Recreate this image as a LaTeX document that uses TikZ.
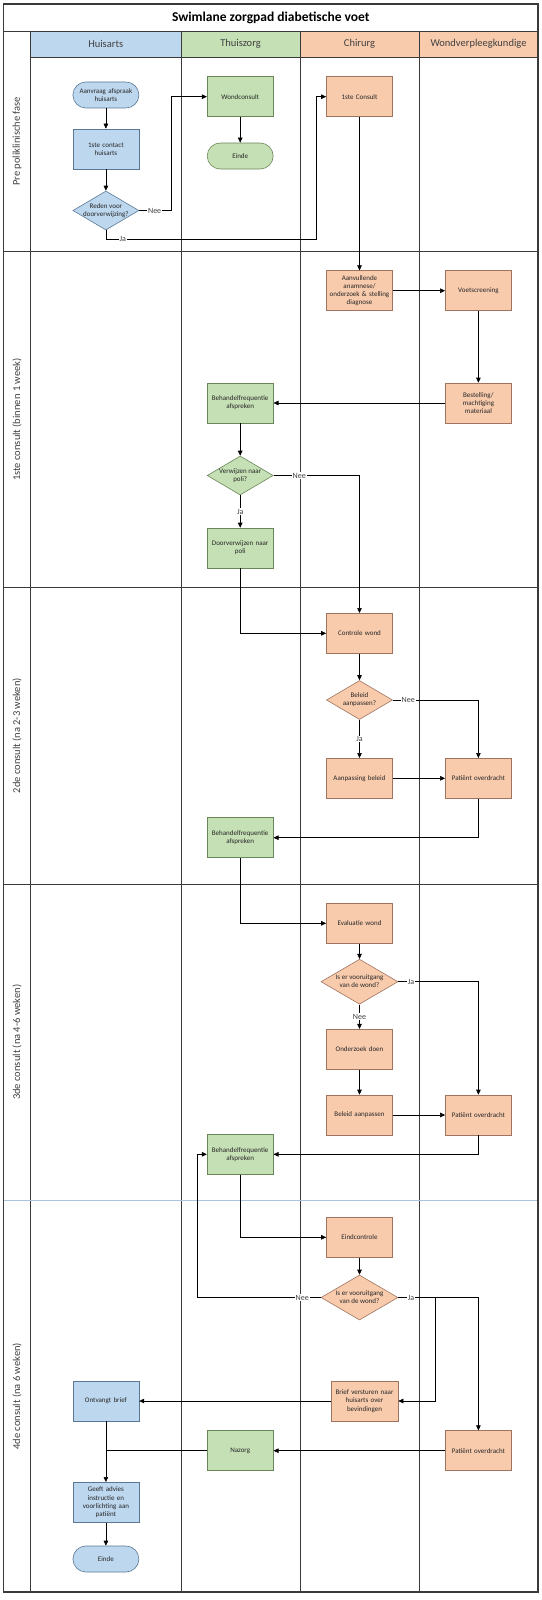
\documentclass[tikz,border=0pt]{standalone}
\usepackage{fontspec}
\setmainfont{Carlito}
\usetikzlibrary{shapes.geometric, arrows.meta, positioning}

\definecolor{hablue}{HTML}{BDD7EE}
\definecolor{haline}{HTML}{5A7896}
\definecolor{tzgreen}{HTML}{C5E0B4}
\definecolor{tzline}{HTML}{6A8558}
\definecolor{chorange}{HTML}{F8CBAD}
\definecolor{chline}{HTML}{9E7460}
\definecolor{laneline}{HTML}{3A3A3A}
\definecolor{textgray}{HTML}{404040}
\definecolor{phaseblue}{HTML}{A9C4DC}

%% diamond text: no width, so the diamond keeps its own size
\newcommand{\dtext}[1]{\makebox[0pt]{\begin{tabular}{@{}c@{}}#1\end{tabular}}}

\begin{document}
\begin{tikzpicture}[
    x=1pt, y=-1pt,
    font=\fontsize{7}{8.2}\selectfont,
    %% ── Box styles ──────────────────────────────────────────────────────
    stepbase/.style={
        rectangle, draw, line width=0.6pt,
        minimum width=66pt, minimum height=40pt,
        text width=64pt, inner sep=0pt,
        align=center, text=black!85,
    },
    hastep/.style={stepbase, draw=haline, fill=hablue},
    tzstep/.style={stepbase, draw=tzline, fill=tzgreen},
    chstep/.style={stepbase, draw=chline, fill=chorange},
    haterm/.style={hastep, minimum height=26pt, rounded corners=13pt},
    tzterm/.style={tzstep, minimum height=26pt, rounded corners=13pt},
    decbase/.style={
        diamond, draw, line width=0.6pt,
        minimum width=66pt, minimum height=39pt,
        inner sep=0pt, text=black!85,
    },
    hadec/.style={decbase, draw=haline, fill=hablue},
    tzdec/.style={decbase, draw=tzline, fill=tzgreen},
    chdec/.style={decbase, draw=chline, fill=chorange},
    widedec/.style={chdec, minimum width=77pt, minimum height=45pt},
    %% ── Lane styles ─────────────────────────────────────────────────────
    lane/.style={draw=laneline, line width=0.9pt},
    lanehead/.style={font=\fontsize{10.5}{12}\selectfont, text=textgray},
    phaselabel/.style={font=\fontsize{10.5}{12}\selectfont, text=textgray, rotate=90},
    %% ── Arrow styles ────────────────────────────────────────────────────
    flow/.style={
        -{Triangle[length=5pt, width=4.5pt]},
        line width=0.6pt,
    },
    link/.style={line width=0.6pt},
    lbl/.style={fill=white, inner sep=0.8pt, font=\fontsize{8}{9}\selectfont, text=textgray},
]

\useasboundingbox (0,0) rectangle (541,1600);

%%─────────────────────────────────────────────────────────────────────────
%% Swimlanes
%%─────────────────────────────────────────────────────────────────────────
\fill[hablue]   (30.4,31) rectangle (181,57);
\fill[tzgreen]  (181,31)  rectangle (300,57);
\fill[chorange] (300,31)  rectangle (419,57);
\fill[chorange] (419,31)  rectangle (538,57);

\draw[lane] (3.5,31) -- (538,31);
\draw[lane] (30.4,57) -- (538,57);
\foreach \px in {30.4, 181, 300, 419}
    \draw[lane] (\px,31) -- (\px,1592);
\foreach \py in {251.7, 587.5, 884}
    \draw[lane] (3.5,\py) -- (538,\py);
\draw[draw=phaseblue, line width=0.8pt] (3.5,1200.7) -- (538,1200.7);
\draw[draw=laneline, line width=1.3pt] (3.5,4) rectangle (538,1592);

\node[font=\bfseries\fontsize{13.5}{15}\selectfont] (title) at (270.75,17.5)
    {Swimlane zorgpad diabetische voet};

\node[lanehead] (hHuisarts) at (105.7,44) {Huisarts};
\node[lanehead] (hThuiszorg) at (240.5,44) {Thuiszorg};
\node[lanehead] (hChirurg) at (359.5,44) {Chirurg};
\node[lanehead] (hWond) at (478.5,44) {Wondverpleegkundige};

\node[phaselabel] (pPre) at (17,141.3) {Pre poliklinische fase};
\node[phaselabel] (pEen) at (17,419.6) {1ste consult (binnen 1 week)};
\node[phaselabel] (pTwee) at (17,735.7) {2de consult (na 2-3 weken)};
\node[phaselabel] (pDrie) at (17,1042.3) {3de consult (na 4-6 weken)};
\node[phaselabel] (pVier) at (17,1396.3) {4de consult (na 6 weken)};

%%─────────────────────────────────────────────────────────────────────────
%% Pre poliklinische fase
%%─────────────────────────────────────────────────────────────────────────
\node[haterm] (aanvraag) at (105.9,95) {Aanvraag afspraak\\huisarts};
\node[hastep] (contact) at (105.9,149) {1ste contact\\huisarts};
\node[hadec] (reden) at (105.9,210.5) {\dtext{Reden voor\\doorverwijzing?}};
\node[tzstep] (wondconsult) at (240.2,96.7) {Wondconsult};
\node[tzterm] (einde1) at (240.2,156) {Einde};
\node[chstep] (consult1) at (359.5,96.7) {1ste Consult};

%%─────────────────────────────────────────────────────────────────────────
%% 1ste consult
%%─────────────────────────────────────────────────────────────────────────
\node[chstep] (aanvullend) at (359.5,290.7) {Aanvullende\\anamnese/\\onderzoek \& stelling\\diagnose};
\node[chstep] (voetscreening) at (478.4,290.7) {Voetscreening};
\node[chstep] (bestelling) at (478.4,403) {Bestelling/\\machtiging\\materiaal};
\node[tzstep] (behandel1) at (240.2,403) {Behandelfrequentie\\afspreken};
\node[tzdec] (verwijzen) at (240.2,475.5) {\dtext{Verwijzen naar\\poli?}};
\node[tzstep] (doorverwijzen) at (240.2,548) {Doorverwijzen naar\\poli};

%%─────────────────────────────────────────────────────────────────────────
%% 2de consult
%%─────────────────────────────────────────────────────────────────────────
\node[chstep] (controle) at (359.5,633.3) {Controle wond};
\node[chdec] (beleid) at (359.5,700) {\dtext{Beleid\\aanpassen?}};
\node[chstep] (aanpassing) at (359.5,778.3) {Aanpassing beleid};
\node[chstep] (overdracht1) at (478.4,778.3) {Patiënt overdracht};
\node[tzstep] (behandel2) at (240.2,837.7) {Behandelfrequentie\\afspreken};

%%─────────────────────────────────────────────────────────────────────────
%% 3de consult
%%─────────────────────────────────────────────────────────────────────────
\node[chstep] (evaluatie) at (359.5,923.3) {Evaluatie wond};
\node[widedec] (vooruit1) at (359.5,981.7) {\dtext{Is er vooruitgang\\van de wond?}};
\node[chstep] (onderzoek) at (359.5,1049.2) {Onderzoek doen};
\node[chstep] (beleidaanp) at (359.5,1115) {Beleid aanpassen};
\node[chstep] (overdracht2) at (478.4,1115) {Patiënt overdracht};
\node[tzstep] (behandel3) at (240.2,1154.3) {Behandelfrequentie\\afspreken};

%%─────────────────────────────────────────────────────────────────────────
%% 4de consult
%%─────────────────────────────────────────────────────────────────────────
\node[chstep] (eindcontrole) at (359.5,1237.3) {Eindcontrole};
\node[widedec] (vooruit2) at (359.5,1297.5) {\dtext{Is er vooruitgang\\van de wond?}};
\node[chstep, minimum width=67pt] (brief) at (364.5,1401) {Brief versturen naar\\huisarts over\\bevindingen};
\node[hastep] (ontvangt) at (105.9,1401) {Ontvangt brief};
\node[chstep] (overdracht3) at (478.4,1450.7) {Patiënt overdracht};
\node[tzstep] (nazorg) at (240.2,1450.7) {Nazorg};
\node[hastep] (geeft) at (105.9,1502.3) {Geeft advies\\instructie en\\voorlichting aan\\patiënt};
\node[haterm] (einde2) at (105.9,1559) {Einde};

%%─────────────────────────────────────────────────────────────────────────
%% Connectors
%%─────────────────────────────────────────────────────────────────────────
\coordinate (jaturn) at (316.6,239);
\coordinate (neeturn) at (197.2,1297.5);
\coordinate (briefturn) at (435,1297.5);

%% pre poliklinisch
\draw[flow] (aanvraag) -- (contact);
\draw[flow] (contact) -- (reden);
\draw[flow] (reden.east) -- node[lbl, pos=0.48] {Nee} ++(32.2,0) |- (wondconsult.west);
\draw[flow] (wondconsult) -- (einde1);
\draw[flow] (reden.south) |- node[lbl, pos=0.54] {Ja} (jaturn) |- (consult1.west);
\draw[flow] (consult1) -- (aanvullend);

%% 1ste consult
\draw[flow] (aanvullend) -- (voetscreening);
\draw[flow] (voetscreening) -- (bestelling);
\draw[flow] (bestelling) -- (behandel1);
\draw[flow] (behandel1) -- (verwijzen);
\draw[flow] (verwijzen.east) -| node[lbl, pos=0.15] {Nee} (controle.north);
\draw[flow] (verwijzen) -- node[lbl] {Ja} (doorverwijzen);
\draw[flow] (doorverwijzen.south) |- (controle.west);

%% 2de consult
\draw[flow] (controle) -- (beleid);
\draw[flow] (beleid.east) -| node[lbl, pos=0.09] {Nee} (overdracht1.north);
\draw[flow] (beleid) -- node[lbl] {Ja} (aanpassing);
\draw[flow] (aanpassing) -- (overdracht1);
\draw[flow] (overdracht1.south) |- (behandel2.east);
\draw[flow] (behandel2.south) |- (evaluatie.west);

%% 3de consult
\draw[flow] (evaluatie) -- (vooruit1);
\draw[flow] (vooruit1.east) -| node[lbl, pos=0.08] {Ja} (overdracht2.north);
\draw[flow] (vooruit1) -- node[lbl] {Nee} (onderzoek);
\draw[flow] (onderzoek) -- (beleidaanp);
\draw[flow] (beleidaanp) -- (overdracht2);
\draw[flow] (overdracht2.south) |- (behandel3.east);
\draw[flow] (behandel3.south) |- (eindcontrole.west);

%% 4de consult
\draw[flow] (eindcontrole) -- (vooruit2);
\draw[flow] (vooruit2.west) -- node[lbl, pos=0.15] {Nee} (neeturn) |- (behandel3.west);
\draw[flow] (vooruit2.east) -| node[lbl, pos=0.08] {Ja} (overdracht3.north);
\draw[flow] (briefturn) |- (brief.east);
\draw[flow] (brief) -- (ontvangt);
\draw[flow] (overdracht3) -- (nazorg);
\draw[link] (nazorg.west) -- (nazorg.west -| ontvangt.south);
\draw[flow] (ontvangt) -- (geeft);
\draw[flow] (geeft) -- (einde2);

\end{tikzpicture}
\end{document}
